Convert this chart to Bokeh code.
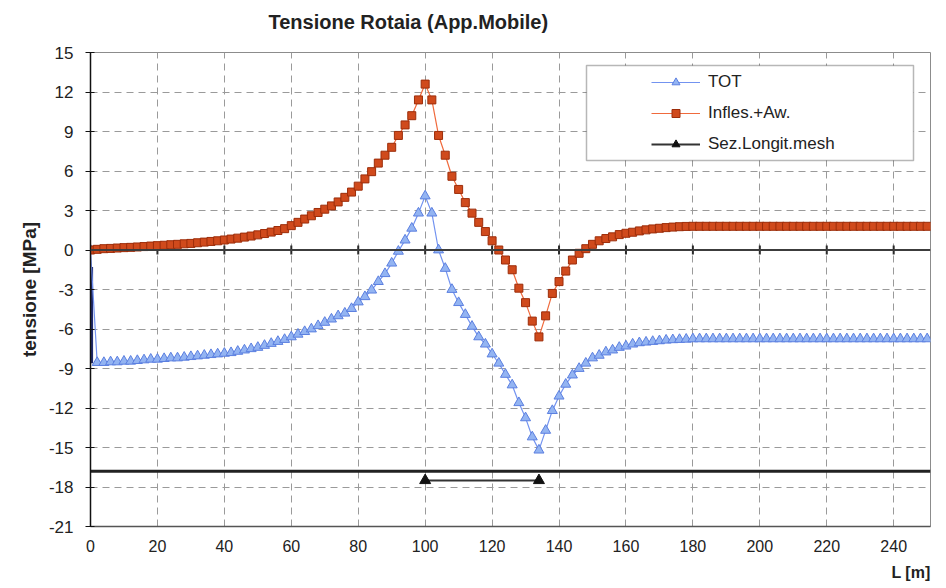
from bokeh.plotting import figure
from bokeh.models import (Range1d, FixedTicker, Legend, LegendItem, BoxAnnotation,
                          Title, Span, PrintfTickFormatter)
from bokeh.embed import file_html
from bokeh.resources import INLINE
import math

# ---------------- data ----------------
L_m = [0, 2, 4, 6, 8, 10, 12, 14, 16, 18,
       20, 22, 24, 26, 28, 30, 32, 34, 36, 38,
       40, 42, 44, 46, 48, 50, 52, 54, 56, 58,
       60, 62, 64, 66, 68, 70, 72, 74, 76, 78,
       80, 82, 84, 86, 88, 90, 92, 94, 96, 98,
       100, 102, 104, 106, 108, 110, 112, 114, 116, 118,
       120, 122, 124, 126, 128, 130, 132, 134, 136, 138,
       140, 142, 144, 146, 148, 150, 152, 154, 156, 158,
       160, 162, 164, 166, 168, 170, 172, 174, 176, 178,
       180, 182, 184, 186, 188, 190, 192, 194, 196, 198,
       200, 202, 204, 206, 208, 210, 212, 214, 216, 218,
       220, 222, 224, 226, 228, 230, 232, 234, 236, 238,
       240, 242, 244, 246, 248, 250]

infles_aw = [0.0, 0.05, 0.1, 0.12, 0.15, 0.18, 0.2, 0.23, 0.26, 0.3,
             0.33, 0.36, 0.4, 0.43, 0.47, 0.5, 0.55, 0.6, 0.65, 0.7,
             0.76, 0.83, 0.9, 0.98, 1.06, 1.15, 1.25, 1.36, 1.48, 1.62,
             1.85, 2.1, 2.35, 2.6, 2.85, 3.1, 3.35, 3.65, 4.0, 4.4,
             4.85, 5.4, 5.95, 6.6, 7.2, 7.8, 8.7, 9.5, 10.2, 11.4,
             12.6, 11.4, 8.7, 7.2, 5.6, 4.6, 3.6, 2.8, 2.1, 1.4,
             0.7, 0.0, -0.76, -1.5, -2.9, -4.0, -5.4, -6.6, -5.0, -3.3,
             -2.4, -1.6, -0.76, -0.25, 0.1, 0.43, 0.7, 0.87, 1.0, 1.17,
             1.27, 1.35, 1.45, 1.53, 1.6, 1.65, 1.7, 1.74, 1.77, 1.79,
             1.8, 1.8, 1.8, 1.8, 1.8, 1.8, 1.8, 1.8, 1.8, 1.8,
             1.8, 1.8, 1.8, 1.8, 1.8, 1.8, 1.8, 1.8, 1.8, 1.8,
             1.8, 1.8, 1.8, 1.8, 1.8, 1.8, 1.8, 1.8, 1.8, 1.8,
             1.8, 1.8, 1.8, 1.8, 1.8, 1.8]

tot = [0.0, -8.55, -8.55, -8.5, -8.5, -8.45, -8.45, -8.4, -8.35, -8.3,
       -8.3, -8.25, -8.2, -8.2, -8.15, -8.1, -8.05, -8.0, -7.95, -7.9,
       -7.85, -7.8, -7.7, -7.6, -7.5, -7.4, -7.25, -7.1, -6.95, -6.8,
       -6.6, -6.4, -6.2, -6.0, -5.75, -5.5, -5.25, -5.0, -4.8, -4.45,
       -3.95, -3.55, -3.05, -2.4, -1.8, -1.0, -0.1, 0.75, 1.65, 2.8,
       4.1, 2.8, 0.0, -1.4, -3.0, -4.0, -4.9, -5.8, -6.6, -7.15,
       -7.9, -8.6, -9.45, -10.25, -11.6, -12.75, -14.2, -15.2, -13.7, -12.2,
       -11.1, -10.2, -9.5, -9.0, -8.6, -8.2, -8.0, -7.75, -7.6, -7.4,
       -7.3, -7.15, -7.05, -7.0, -6.95, -6.9, -6.85, -6.82, -6.8, -6.78,
       -6.75, -6.75, -6.75, -6.75, -6.75, -6.75, -6.75, -6.75, -6.75, -6.75,
       -6.75, -6.75, -6.75, -6.75, -6.75, -6.75, -6.75, -6.75, -6.75, -6.75,
       -6.75, -6.75, -6.75, -6.75, -6.75, -6.75, -6.75, -6.75, -6.75, -6.75,
       -6.75, -6.75, -6.75, -6.75, -6.75, -6.75]

mesh_x = [100, 134]
mesh_y = [-17.5, -17.5]
floor_x = [0, 251]
floor_y = [-16.8, -16.8]
edge_x = [0.4, 0.4]
edge_y = [-1.3, -8.6]

x_ticks = [0, 20, 40, 60, 80, 100, 120, 140, 160, 180, 200, 220, 240]
y_ticks = [-21, -18, -15, -12, -9, -6, -3, 0, 3, 6, 9, 12, 15]
zero_marks = [20, 40, 60, 80, 100, 120, 140, 160, 180, 200, 220, 240]

FONT = "Liberation Sans"

p = figure(width=946, height=588, output_backend="svg", toolbar_location=None,
           x_range=Range1d(0, 251), y_range=Range1d(-21, 15),
           min_border_left=90, min_border_right=16, min_border_top=52,
           min_border_bottom=60, background_fill_color="white",
           border_fill_color="white")

p.title.text = "Tensione Rotaia (App.Mobile)"
p.title.align = "left"
p.title.offset = 178
p.title.text_font = FONT
p.title.text_font_size = "20px"
p.title.text_font_style = "bold"
p.title.text_color = "#222222"
p.title.vertical_align = "top"
p.title.padding = dict(left=0, right=0, top=0, bottom=10)
p.title.standoff = 15

p.outline_line_color = "#8c8c8c"
p.outline_line_width = 1

# grid
p.xgrid.ticker = FixedTicker(ticks=x_ticks)
p.ygrid.ticker = FixedTicker(ticks=y_ticks)
for g in (p.xgrid, p.ygrid):
    g.grid_line_color = "#9a9a9a"
    g.grid_line_dash = "7 5"
    g.grid_line_width = 1

# axes
p.xaxis.ticker = FixedTicker(ticks=x_ticks)
p.yaxis.ticker = FixedTicker(ticks=y_ticks)
p.yaxis.formatter = PrintfTickFormatter(format="%d")
p.xaxis.major_tick_in = 0
p.xaxis.major_tick_out = 0
p.xaxis.minor_tick_line_color = None
p.xaxis.axis_line_color = "#555555"
p.xaxis.axis_line_width = 1.5
p.xaxis.major_label_standoff = 13
p.xaxis.major_label_text_font = FONT
p.xaxis.major_label_text_font_size = "16px"
p.xaxis.major_label_text_color = "#222222"

p.yaxis.major_tick_in = 4
p.yaxis.major_tick_out = 5
p.yaxis.minor_tick_line_color = None
p.yaxis.axis_line_color = "#111111"
p.yaxis.axis_line_width = 1.5
p.yaxis.major_tick_line_color = "#111111"
p.yaxis.major_label_standoff = 12
p.yaxis.major_label_text_font = FONT
p.yaxis.major_label_text_font_size = "17px"
p.yaxis.major_label_text_color = "#222222"
p.yaxis.axis_label = "tensione [MPa]"
p.yaxis.axis_label_text_font = FONT
p.yaxis.axis_label_text_font_size = "19px"
p.yaxis.axis_label_text_font_style = "bold"
p.yaxis.axis_label_text_color = "#222222"
p.yaxis.axis_label_standoff = 6

p.add_layout(Title(text="L [m]", align="right", text_font=FONT,
                   text_font_size="16px", text_font_style="bold",
                   text_color="#222222", standoff=15), "below")

# zero line with tick marks
p.add_layout(Span(location=0, dimension="width", line_color="#3c3c3c",
                  line_width=2))
p.scatter(x=zero_marks, y=[0] * len(zero_marks), marker="dash", angle=math.pi / 2,
          size=9, line_color="#2a2a2a", line_width=2)

# mesh-related lines
p.line(floor_x, floor_y, line_color="#222222", line_width=3)
p.line(edge_x, edge_y, line_color="#1f2a6b", line_width=2.5)

# series
blue_l = p.line(L_m, tot, line_color="#7393f0", line_width=1.2)
blue_m = p.scatter(L_m, tot, marker="triangle", size=10, fill_color="#93b4f2",
                   line_color="#5b7fe0", line_width=1)
red_l = p.line(L_m, infles_aw, line_color="#f06a3c", line_width=1.2)
red_m = p.scatter(L_m, infles_aw, marker="square", size=8, fill_color="#d04a1c",
                  line_color="#9c2d0a", line_width=1)
mesh_l = p.line(mesh_x, mesh_y, line_color="#333333", line_width=2)
mesh_m = p.scatter(mesh_x, mesh_y, marker="triangle", size=11, fill_color="#111111",
                   line_color="#111111")

# legend box + legend
box = BoxAnnotation(left=496, right=823, bottom=366, top=461,
                    left_units="screen", right_units="screen",
                    bottom_units="screen", top_units="screen",
                    fill_color="white", fill_alpha=1.0,
                    line_color="#111111", line_width=1.5)
p.add_layout(box)

legend = Legend(items=[LegendItem(label="TOT", renderers=[blue_l, blue_m]),
                       LegendItem(label="Infles.+Aw.", renderers=[red_l, red_m]),
                       LegendItem(label="Sez.Longit.mesh", renderers=[mesh_l, mesh_m])],
                location=(556, 367), padding=5, spacing=11, glyph_width=49,
                glyph_height=20, label_standoff=8, label_text_font=FONT,
                label_text_font_size="17px", label_text_color="#222222",
                border_line_alpha=0, background_fill_alpha=0)
p.add_layout(legend)

open("out.html", "w").write(file_html(p, INLINE))
